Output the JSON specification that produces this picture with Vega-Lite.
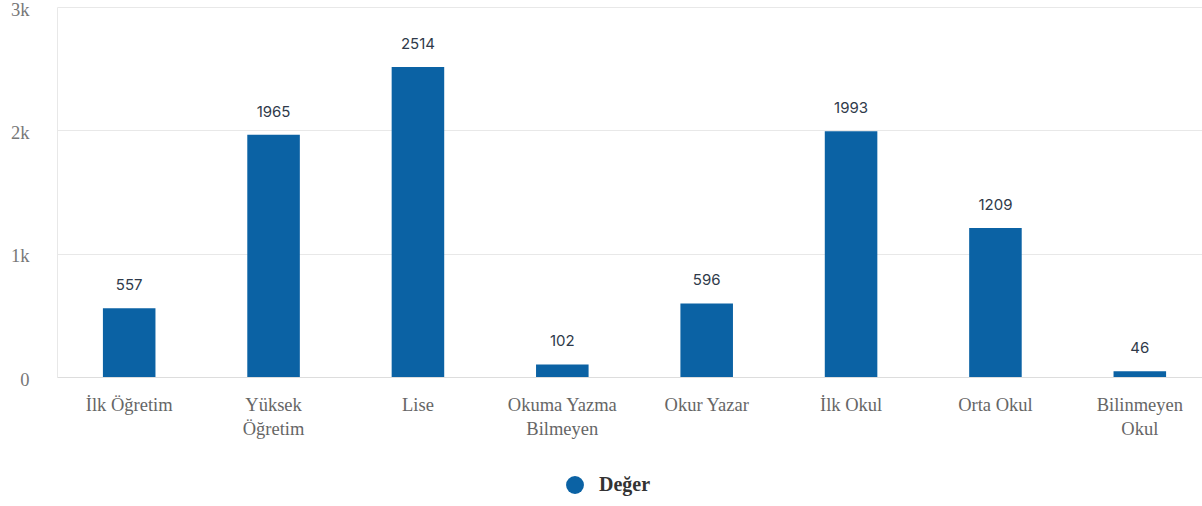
{
  "$schema": "https://vega.github.io/schema/vega-lite/v6.json",
  "autosize": "none",
  "width": 1155,
  "height": 370,
  "padding": {"left": 57, "top": 7, "right": 0, "bottom": 129},
  "background": "white",
  "data": {
    "values": [
      {"kategori": "İlk Öğretim", "deger": 557, "seri": "Değer"},
      {"kategori": "Yüksek Öğretim", "deger": 1965, "seri": "Değer"},
      {"kategori": "Lise", "deger": 2514, "seri": "Değer"},
      {"kategori": "Okuma Yazma Bilmeyen", "deger": 102, "seri": "Değer"},
      {"kategori": "Okur Yazar", "deger": 596, "seri": "Değer"},
      {"kategori": "İlk Okul", "deger": 1993, "seri": "Değer"},
      {"kategori": "Orta Okul", "deger": 1209, "seri": "Değer"},
      {"kategori": "Bilinmeyen Okul", "deger": 46, "seri": "Değer"}
    ]
  },
  "encoding": {
    "x": {
      "field": "kategori",
      "type": "nominal",
      "sort": null,
      "scale": {"paddingInner": 0.636, "paddingOuter": 0.318},
      "axis": {
        "title": null,
        "labelAngle": 0,
        "labelFont": "Liberation Serif",
        "labelFontSize": 18.5,
        "labelColor": "#666666",
        "labelPadding": 18,
        "labelLineHeight": 24,
        "labelExpr": "datum.label == 'Yüksek Öğretim' ? ['Yüksek', 'Öğretim'] : datum.label == 'Okuma Yazma Bilmeyen' ? ['Okuma Yazma', 'Bilmeyen'] : datum.label == 'Bilinmeyen Okul' ? ['Bilinmeyen', 'Okul'] : datum.label",
        "ticks": false,
        "domainColor": "#dddddd",
        "grid": false
      }
    },
    "y": {
      "field": "deger",
      "type": "quantitative",
      "scale": {"domain": [0, 3000], "nice": false},
      "axis": {
        "title": null,
        "values": [0, 1000, 2000, 3000],
        "labelExpr": "datum.value == 0 ? '0' : (datum.value / 1000) + 'k'",
        "labelFont": "Liberation Serif",
        "labelFontSize": 18.5,
        "labelColor": "#777777",
        "labelPadding": 28,
        "labelBaseline": "middle",
        "labelOffset": 2,
        "labelFlush": false,
        "ticks": false,
        "domain": true,
        "domainColor": "#e8e8e8",
        "gridColor": "#e8e8e8"
      }
    }
  },
  "layer": [
    {
      "mark": {"type": "bar"},
      "encoding": {
        "color": {
          "field": "seri",
          "type": "nominal",
          "scale": {"range": ["#0b62a4"]},
          "legend": {
            "title": null,
            "orient": "none",
            "legendX": 508,
            "legendY": 468,
            "symbolType": "circle",
            "symbolSize": 320,
            "labelFont": "Liberation Serif",
            "labelFontSize": 20,
            "labelFontWeight": "bold",
            "labelColor": "#333333",
            "labelOffset": 14
          }
        }
      }
    },
    {
      "mark": {"type": "text", "dy": -23, "baseline": "middle", "font": "Inter", "fontSize": 15, "color": "#2f3a4a"},
      "encoding": {"text": {"field": "deger", "type": "quantitative"}}
    }
  ],
  "config": {"view": {"stroke": null}}
}
